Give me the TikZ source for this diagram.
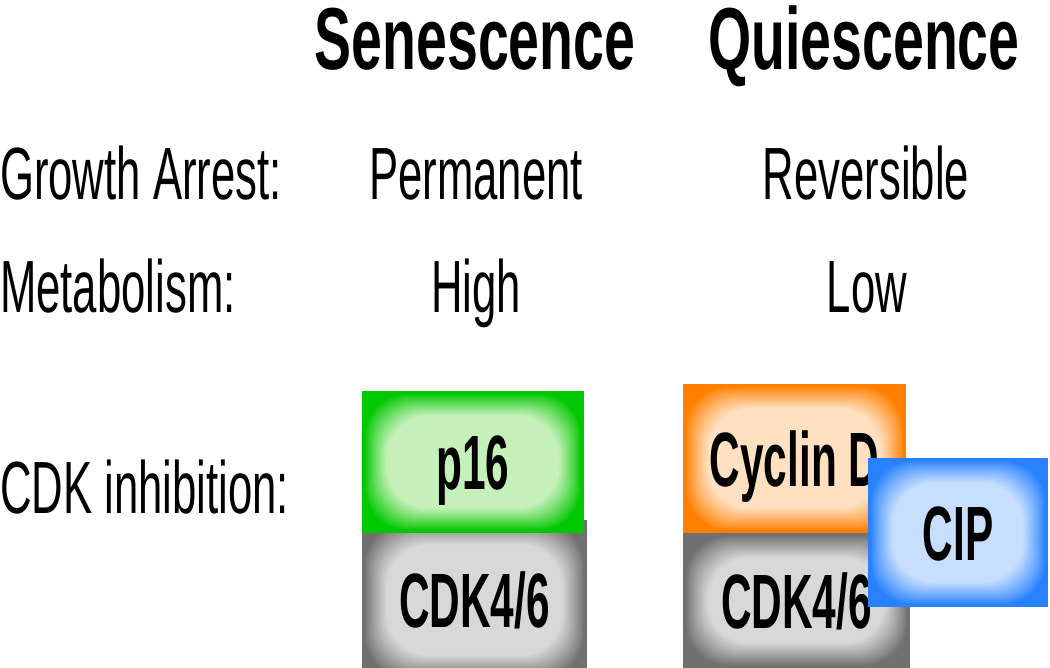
\documentclass[tikz,border=0pt]{standalone}
\usepackage{fontspec}
\setmainfont[FakeStretch=0.59]{Liberation Sans}
\newfontfamily\headfont[FakeStretch=0.63]{Liberation Sans}
\newfontfamily\boxfont[FakeStretch=0.55]{Liberation Sans}

\definecolor{sengreen}{RGB}{0,200,0}
\definecolor{sengreenlt}{RGB}{198,240,186}
\definecolor{cdkgray}{RGB}{112,112,112}
\definecolor{cdkgraylt}{RGB}{216,216,216}
\definecolor{cycorange}{RGB}{255,128,0}
\definecolor{cycorangelt}{RGB}{255,224,192}
\definecolor{cipblue}{RGB}{40,130,255}
\definecolor{cipbluelt}{RGB}{200,222,255}

\tikzset{
	heading/.style={inner sep=0pt, anchor=base,
		font=\headfont\bfseries\fontsize{88}{96}\selectfont},
	rowlabel/.style={inner sep=0pt, anchor=base west,
		font=\fontsize{74}{80}\selectfont},
	rowvalue/.style={inner sep=0pt, anchor=base,
		font=\fontsize{74}{80}\selectfont},
	glowbox/.style 2 args={draw=none, fill=#1, inner sep=0pt,
		text height=55pt, text depth=0pt,
		font=\boxfont\bfseries\fontsize{77}{80}\selectfont,
		path picture={
			\foreach \k in {0,...,24}{
				\pgfmathtruncatemacro{\mixpct}{100*((\k+1)/25)^0.9}
				\pgfmathsetmacro{\inset}{3+0.9*\k}
				\fill[#2!\mixpct!#1, rounded corners=42pt]
					([shift={(\inset pt,\inset pt)}]path picture bounding box.south west) rectangle
					([shift={(-\inset pt,-\inset pt)}]path picture bounding box.north east);
			}
		}}
}

\begin{document}
\begin{tikzpicture}[x=1pt, y=-1pt]
	\useasboundingbox (0,0) rectangle (1050,668);
	\clip (0,0) rectangle (1050,668);

	% column heads
	\node[heading] (sen) at (475,70) {Senescence};
	\node[heading] (qui) at (864,70) {Quiescence};

	% rows
	\node[rowlabel] (arrest) at (0,200) {Growth Arrest:};
	\node[rowvalue] (perm) at (476,200) {Permanent};
	\node[rowvalue] (rev) at (866,200) {Reversible};

	\node[rowlabel] (metab) at (0,313) {Metabolism:};
	\node[rowvalue] (high) at (476,313) {High};
	\node[rowvalue] (low) at (867,313) {Low};

	\node[rowlabel] (cdkinh) at (0,513) {CDK inhibition:};

	% senescence complex
	\node[glowbox={cdkgray}{cdkgraylt}, minimum width=225pt, minimum height=160pt]
		(cdkS) at (474.5,600) {CDK4/6};
	\node[glowbox={sengreen}{sengreenlt}, minimum width=222pt, minimum height=142pt]
		(p16) at (473,462) {p16};

	% quiescence complex
	\node[glowbox={cdkgray}{cdkgraylt}, minimum width=227pt, minimum height=135pt]
		(cdkQ) at (796.5,600.5) {CDK4/6};
	\node[glowbox={cycorange}{cycorangelt}, minimum width=223pt, minimum height=149pt]
		(cycD) at (794.5,458.5) {Cyclin D};
	\node[glowbox={cipblue}{cipbluelt}, minimum width=180pt, minimum height=149pt]
		(cip) at (958,532.5) {CIP};
\end{tikzpicture}
\end{document}
